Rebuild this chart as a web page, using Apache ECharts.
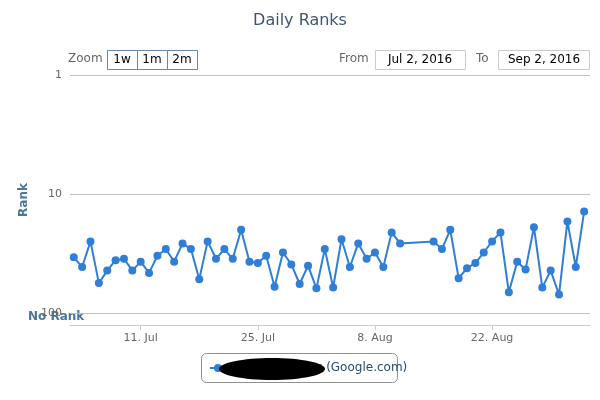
<!DOCTYPE html>
<html>
<head>
<meta charset="utf-8">
<script src="https://cdn.jsdelivr.net/npm/echarts@6/dist/echarts.min.js"></script>
<style>html,body{margin:0;padding:0;background:#fff}#chart{width:600px;height:400px}</style>
</head>
<body>
<div id="chart"></div>
<script>
// daily ranks, Jul 3 - Aug 11 and Aug 15 - Sep 2, 2016
var startA = '2016-07-03';
var startB = '2016-08-15';
var ranksA = [34, 41, 25, 56, 44, 36, 35, 44, 37, 46, 33, 29, 37, 26, 29, 52, 25, 35, 29, 35,
  20, 37, 38, 33, 60, 31, 39, 57, 40, 62, 29, 61, 24, 41, 26, 35, 31, 41, 21, 26];
var ranksB = [25, 29, 20, 51, 42, 38, 31, 25, 21, 67, 37, 43, 19, 61, 44, 70, 17, 41, 14];
var tickDates = ['2016-07-11', '2016-07-25', '2016-08-08', '2016-08-22'];
var months = ['Jan','Feb','Mar','Apr','May','Jun','Jul','Aug','Sep','Oct','Nov','Dec'];
var seriesName = 'xxxxxxxxxxxxx (Google.com)';

var DAY = 86400000;
var origin = Date.parse('2016-07-11T00:00:00Z');
function dayOf(s) { return (Date.parse(s + 'T00:00:00Z') - origin) / DAY; }
function build(start, vals) {
  var d0 = dayOf(start);
  return vals.map(function (v, i) { return [d0 + i, v]; });
}
var data = build(startA, ranksA).concat(build(startB, ranksB));
var ticks = tickDates.map(dayOf);

var myChart = echarts.init(document.getElementById('chart'));
var option = {
  animation: false,
  title: {
    text: 'Daily Ranks', left: 'center', top: 8,
    textStyle: { color: '#3e576f', fontSize: 16, fontWeight: 'normal', fontFamily: 'DejaVu Sans' }
  },
  grid: { left: 70, right: 10, top: 75, bottom: 75 },
  xAxis: {
    type: 'value',
    min: -8.45, max: 53.7,
    axisLine: { lineStyle: { color: '#c0d0e0' } },
    axisTick: { customValues: ticks, length: 5, lineStyle: { color: '#c0d0e0' } },
    axisLabel: {
      customValues: ticks, color: '#666', fontSize: 11, fontFamily: 'DejaVu Sans',
      formatter: function (v) { var d = new Date(origin + v * DAY); return d.getUTCDate() + '. ' + months[d.getUTCMonth()]; }
    },
    splitLine: { show: false }
  },
  yAxis: {
    type: 'log', logBase: 10, inverse: true, min: 1, max: 126,
    name: 'Rank', nameLocation: 'middle', nameGap: 38,
    nameTextStyle: { color: '#4d759e', fontWeight: 'bold', fontSize: 12, fontFamily: 'DejaVu Sans' },
    axisLine: { show: false }, axisTick: { show: false },
    axisLabel: { color: '#666', fontSize: 11, fontFamily: 'DejaVu Sans', showMaxLabel: false, margin: 8 },
    splitLine: { lineStyle: { color: '#c0c0c0' } }
  },
  series: [{
    name: seriesName,
    type: 'line',
    data: data,
    symbol: 'circle', symbolSize: 8,
    itemStyle: { color: '#2f7ed8' },
    lineStyle: { color: '#2f7ed8', width: 2 }
  }],
  graphic: [
    { type: 'text', left: 28, top: 311, style: { text: 'No Rank', fill: '#4d759e', font: 'bold 12px DejaVu Sans' } },
    { type: 'text', left: 68, top: 53, style: { text: 'Zoom', fill: '#666', font: '12px DejaVu Sans' } },
    { type: 'rect', shape: { x: 107.5, y: 50.5, width: 30, height: 19 }, style: { fill: '#fff', stroke: '#68a' } },
    { type: 'rect', shape: { x: 137.5, y: 50.5, width: 30, height: 19 }, style: { fill: '#fff', stroke: '#68a' } },
    { type: 'rect', shape: { x: 167.5, y: 50.5, width: 30, height: 19 }, style: { fill: '#fff', stroke: '#68a' } },
    { type: 'text', x: 122, y: 60, style: { text: '1w', fill: '#000', font: '12px DejaVu Sans', align: 'center', verticalAlign: 'middle' } },
    { type: 'text', x: 152, y: 60, style: { text: '1m', fill: '#000', font: '12px DejaVu Sans', align: 'center', verticalAlign: 'middle' } },
    { type: 'text', x: 182, y: 60, style: { text: '2m', fill: '#000', font: '12px DejaVu Sans', align: 'center', verticalAlign: 'middle' } },
    { type: 'text', left: 339, top: 53, style: { text: 'From', fill: '#666', font: '12px DejaVu Sans' } },
    { type: 'rect', shape: { x: 375.5, y: 50.5, width: 90, height: 19 }, style: { fill: '#fff', stroke: '#ccc' } },
    { type: 'text', x: 420, y: 60, style: { text: 'Jul 2, 2016', fill: '#000', font: '12px DejaVu Sans', align: 'center', verticalAlign: 'middle' } },
    { type: 'text', left: 476, top: 53, style: { text: 'To', fill: '#666', font: '12px DejaVu Sans' } },
    { type: 'rect', shape: { x: 498.5, y: 50.5, width: 91, height: 19 }, style: { fill: '#fff', stroke: '#ccc' } },
    { type: 'text', x: 544, y: 60, style: { text: 'Sep 2, 2016', fill: '#000', font: '12px DejaVu Sans', align: 'center', verticalAlign: 'middle' } },
    { type: 'rect', shape: { x: 201.5, y: 353.5, width: 196, height: 29, r: 5 }, style: { fill: '#fff', stroke: '#909090' } },
    { type: 'line', shape: { x1: 210, y1: 368, x2: 226, y2: 368 }, style: { stroke: '#2f7ed8', lineWidth: 2 } },
    { type: 'circle', shape: { cx: 218, cy: 368, r: 4 }, style: { fill: '#2f7ed8' } },
    { type: 'text', x: 230, y: 368, style: { text: seriesName, fill: '#274b6d', font: '12px DejaVu Sans', verticalAlign: 'middle' } },
    { type: 'ellipse', shape: { cx: 272, cy: 369, rx: 53, ry: 11 }, style: { fill: '#000' }, z: 100 }
  ]
};
myChart.setOption(option);
</script>
</body>
</html>
